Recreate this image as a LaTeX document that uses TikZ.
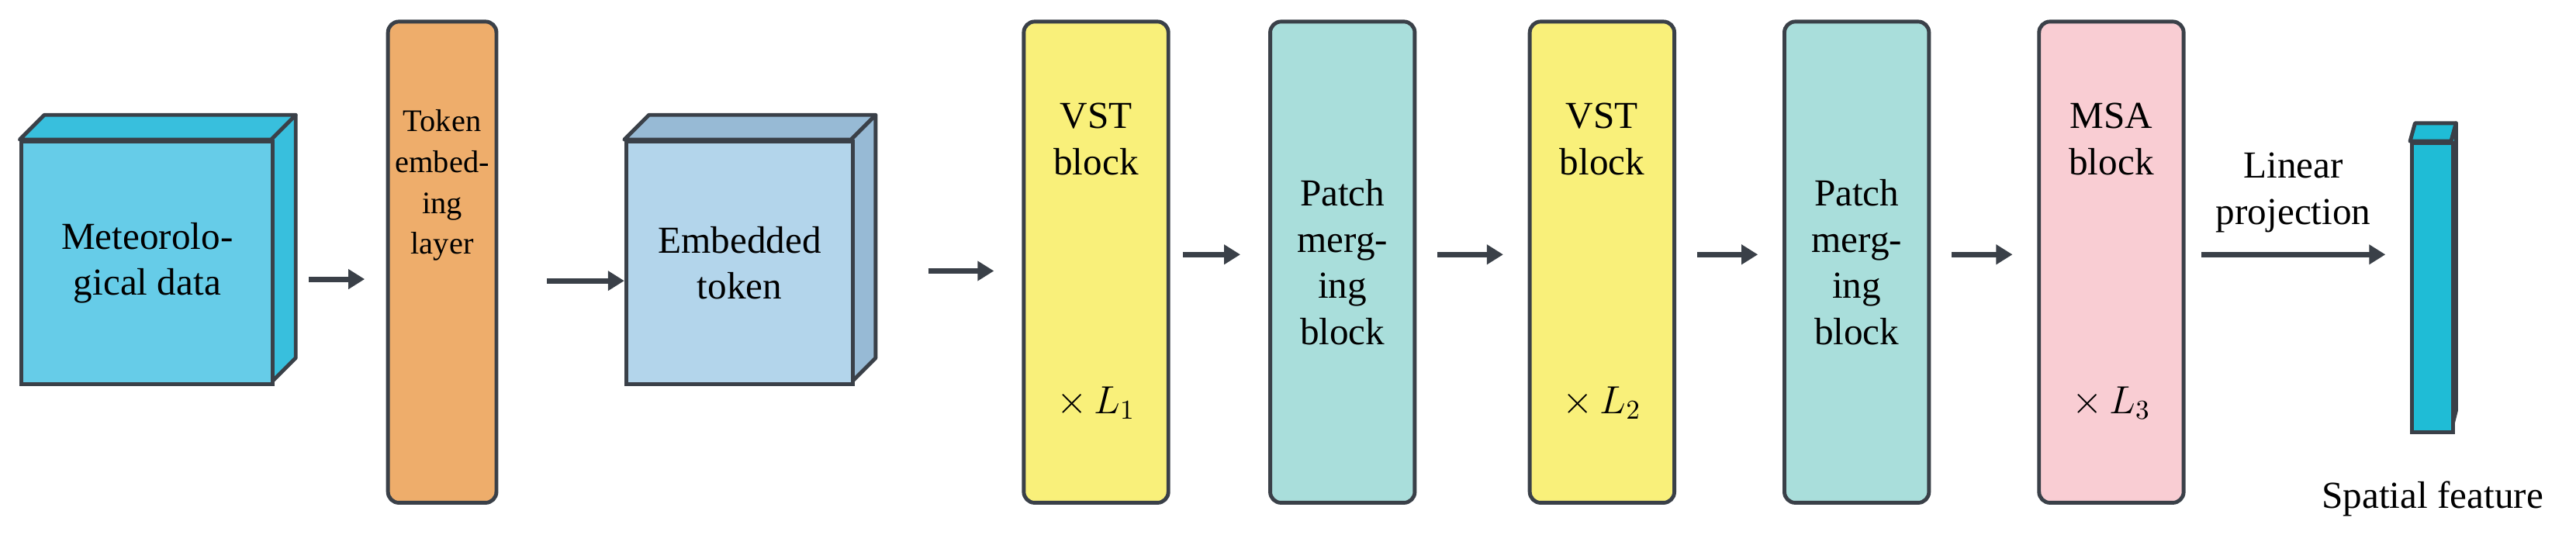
\documentclass[tikz,border=0pt]{standalone}
\usepackage{fontspec}
\setmainfont{Liberation Serif}
\usetikzlibrary{arrows.meta, calc, positioning}

\definecolor{meteo}{HTML}{66CCE8}
\definecolor{meteoside}{HTML}{38BFDD}
\definecolor{tokenor}{HTML}{EEAD6B}
\definecolor{embfront}{HTML}{B3D5EB}
\definecolor{embside}{HTML}{97BAD5}
\definecolor{vst}{HTML}{F9F07A}
\definecolor{patch}{HTML}{A9DEDB}
\definecolor{msa}{HTML}{F9CDD3}
\definecolor{feat}{HTML}{1FBCD6}
\definecolor{edge}{HTML}{3A4048}

\begin{document}
\begin{tikzpicture}[
        x = 0.02118cm, y = -0.02118cm,
        > = {Triangle[length=6pt, width=7pt]}, % arrow head style
        font = \rmfamily\fontsize{14}{17}\selectfont,
        line width = 1.4pt
    ]

    \tikzset{
        block/.style = {draw = edge, rounded corners = 4pt, minimum width = 88*0.02118cm,
            minimum height = 293*0.02118cm, anchor = north west, inner sep = 0pt},
        face/.style = {draw = edge, line join = round},
        flow/.style = {->, draw = edge, line width = 2pt},
        label/.style = {align = center, inner sep = 1pt}
    }

    \useasboundingbox (0,0) rectangle (1568,340.4);

    % meteorological data cube
    \filldraw[face, fill = meteoside] (165,85) -- (180,70) -- (180,218) -- (165,233) -- cycle;
    \filldraw[face, fill = meteoside] (12,85) -- (27,70) -- (180,70) -- (165,85) -- cycle;
    \node[draw = edge, fill = meteo, minimum width = 153*0.02118cm, minimum height = 148*0.02118cm,
        anchor = north west, inner sep = 0pt] (meteo) at (12,85) {};
    \node[label] at (meteo.center) {Meteorolo-\\gical data};

    % token embedding layer
    \node[block, fill = tokenor, minimum width = 66*0.02118cm] (token) at (235,12) {};
    \node[label, font = \rmfamily\fontsize{11.5}{15}\selectfont, below = 52*0.02118cm of token.north]
        {Token\\embed-\\ing\\layer};

    % embedded token cube
    \filldraw[face, fill = embside] (518,85) -- (533,70) -- (533,218) -- (518,233) -- cycle;
    \filldraw[face, fill = embside] (380,85) -- (395,70) -- (533,70) -- (518,85) -- cycle;
    \node[draw = edge, fill = embfront, minimum width = 138*0.02118cm, minimum height = 148*0.02118cm,
        anchor = north west, inner sep = 0pt] (emb) at (380,85) {};
    \node[label] at (emb.center) {Embedded\\token};

    % stages
    \node[block, fill = vst] (vst1) at (622,12) {};
    \node[block, fill = patch] (pm1) at (772,12) {};
    \node[block, fill = vst] (vst2) at (930,12) {};
    \node[block, fill = patch] (pm2) at (1085,12) {};
    \node[block, fill = msa] (msa) at (1240,12) {};

    \node[label, below = 48*0.02118cm of vst1.north] {VST\\block};
    \node[label, below = 48*0.02118cm of vst2.north] {VST\\block};
    \node[label, below = 48*0.02118cm of msa.north] {MSA\\block};
    \node[label] at (pm1.center) {Patch\\merg-\\ing\\block};
    \node[label] at (pm2.center) {Patch\\merg-\\ing\\block};
    \node at ($(vst1.south)+(0,-62)$) {$\times\, L_1$};
    \node at ($(vst2.south)+(0,-62)$) {$\times\, L_2$};
    \node at ($(msa.south)+(0,-62)$) {$\times\, L_3$};

    % spatial feature bar
    \filldraw[face, fill = feat] (1467,86) -- (1470,75) -- (1495,75) -- (1492,86) -- cycle;
    \filldraw[face, fill = feat] (1492,86) -- (1495,75) -- (1495,250) -- (1492,262) -- cycle;
    \node[draw = edge, fill = feat, minimum width = 25*0.02118cm, minimum height = 176*0.02118cm,
        anchor = north west, inner sep = 0pt] (feat) at (1467,86) {};
    \node[below = 22*0.02118cm of feat.south] {Spatial feature};

    % connectors
    \draw[flow] (188,170) -- (222,170);
    \draw[flow] (333,171) -- (emb.west |- 0,171);
    \draw[flow] (565,165) -- (605,165);
    \draw[flow] (720,155) -- (755,155);
    \draw[flow] (875,155) -- (915,155);
    \draw[flow] (1033,155) -- (1070,155);
    \draw[flow] (1188,155) -- (1225,155);
    \draw[flow] (1340,155) -- node[above = 6pt, label] {Linear\\projection} (1452,155);
\end{tikzpicture}
\end{document}
